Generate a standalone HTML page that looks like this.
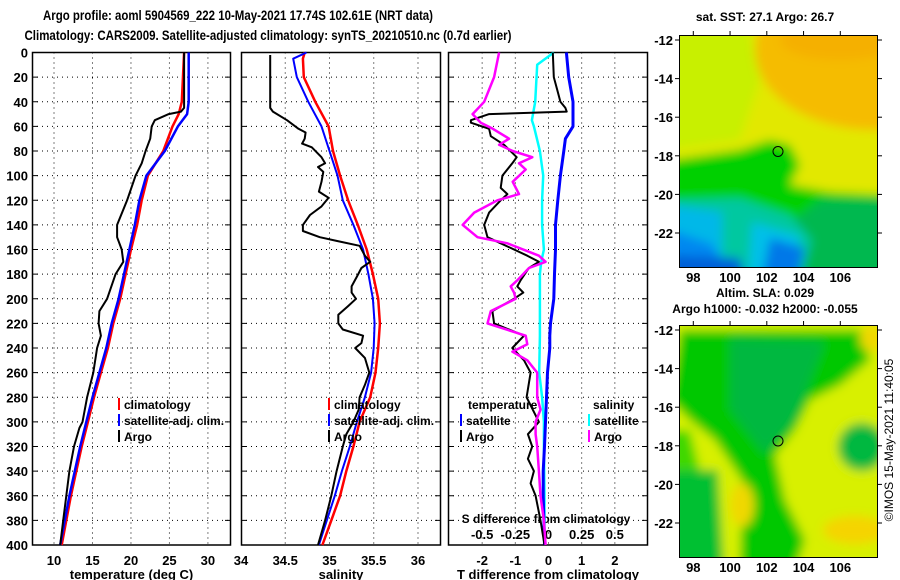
<!DOCTYPE html>
<html><head><meta charset="utf-8">
<style>
html,body{margin:0;padding:0;background:#fff;}
svg{display:block;font-family:"Liberation Sans",sans-serif;font-weight:bold;}
text{fill:#000;}
</style></head>
<body>
<svg id="chart" width="900" height="580" viewBox="0 0 900 580" xmlns="http://www.w3.org/2000/svg">
<defs>
<filter id="blur" x="-10%" y="-10%" width="120%" height="120%"><feGaussianBlur stdDeviation="5"/></filter>
<clipPath id="clipTop"><rect x="680" y="36" width="197" height="231"/></clipPath>
<clipPath id="clipBot"><rect x="680" y="326" width="197" height="231"/></clipPath>
</defs>
<text x="238" y="20" font-size="14" text-anchor="middle" textLength="390" lengthAdjust="spacingAndGlyphs">Argo profile: aoml 5904569_222 10-May-2021 17.74S 102.61E (NRT data)</text>
<text x="268" y="40" font-size="14" text-anchor="middle" textLength="487" lengthAdjust="spacingAndGlyphs">Climatology: CARS2009. Satellite-adjusted climatology: synTS_20210510.nc (0.7d earlier)</text>

<g>
<g clip-path="url(#clipTop)">
<g filter="url(#blur)">
<rect x="670" y="26" width="220" height="250" fill="#e2e800"/>
<ellipse cx="875" cy="50" rx="120" ry="80" fill="#f5bc00"/>
<ellipse cx="840" cy="40" rx="60" ry="20" fill="#f5b000"/>
<polygon points="670,30 750,30 760,80 740,140 670,150" fill="#c8f000"/>
<polygon points="670,160 740,150 770,140 790,145 800,165 790,185 830,192 890,195 890,280 670,280" fill="#00d000"/>
<polygon points="820,200 890,200 890,280 800,280 780,230" fill="#00b850"/>
<polygon points="670,200 740,198 790,215 812,240 800,280 670,280" fill="#00c8a0"/>
<polygon points="670,205 722,212 722,280 670,280" fill="#00b8e8"/>
<polygon points="752,222 800,236 792,280 748,280" fill="#00c0e8"/>
<polygon points="670,230 712,244 732,280 670,280" fill="#0088f0"/>
<polygon points="670,255 740,258 745,280 670,280" fill="#0060d8"/>
<polygon points="770,238 805,248 798,280 762,280" fill="#0078e8"/>
</g></g>
<rect x="679.5" y="35.5" width="198" height="232" fill="none" stroke="#000"/>
<circle cx="778" cy="151.5" r="5" fill="none" stroke="#000"/>
<text x="765" y="21" font-size="12" text-anchor="middle">sat. SST: 27.1 Argo: 26.7</text>
<text x="765" y="297" font-size="12" text-anchor="middle">Altim. SLA: 0.029</text>
</g>

<g>
<g clip-path="url(#clipBot)">
<g filter="url(#blur)">
<rect x="670" y="316" width="220" height="250" fill="#d8f000"/>
<polygon points="680,330 860,330 870,360 840,385 810,400 795,430 775,455 785,500 805,540 795,570 740,570 742,480 715,440 690,420 670,400" fill="#00c800"/>
<polygon points="730,338 825,342 795,420 765,455 730,410" fill="#00b840"/>
<polygon points="670,470 718,470 724,570 670,570" fill="#00c030"/>
<polygon points="670,430 690,430 700,470 670,470" fill="#40d800"/>
<circle cx="862" cy="447" r="24" fill="#00b840"/>
<ellipse cx="742" cy="505" rx="12" ry="22" fill="#f0d800"/>
<ellipse cx="855" cy="530" rx="32" ry="14" fill="#f5d400"/>
<ellipse cx="872" cy="338" rx="12" ry="14" fill="#f0d800"/>
</g></g>
<rect x="679.5" y="325.5" width="198" height="232" fill="none" stroke="#000"/>
<circle cx="778" cy="441" r="5" fill="none" stroke="#000"/>
<text x="765" y="313" font-size="12" text-anchor="middle">Argo h1000: -0.032 h2000: -0.055</text>
<text transform="translate(893,440) rotate(-90)" font-size="12" font-weight="normal" text-anchor="middle">©IMOS 15-May-2021 11:40:05</text>
</g>
<g id="dyn"></g>
</svg>
<script>
// ---- data ----
const depthTicks = [0,20,40,60,80,100,120,140,160,180,200,220,240,260,280,300,320,340,360,380,400];
const tempTicks = [10,15,20,25,30];
const salTicks = [34,34.5,35,35.5,36];
const diffTicks = [-2,-1,0,1,2];
const sdiffTicks = [-0.5,-0.25,0,0.25,0.5];

const tClimDepth = [0,40,50,60,80,100,120,140,160,180,200,220,240,260,280,300,320,340,360,380,400];
const tClim = [26.9,26.6,26.2,25.4,24.2,22.2,21.4,20.8,20.0,19.3,18.6,17.7,17.0,16.1,15.2,14.4,13.6,12.9,12.2,11.6,11.0];
const tSat = [27.5,27.5,27.3,26.1,24.4,22.0,21.1,20.5,19.8,19.1,18.4,17.5,16.8,15.9,15.0,14.2,13.4,12.7,12.0,11.4,10.8];
const tArgoDepth = [0,45,48,50,55,60,70,80,90,100,120,140,150,160,170,180,200,210,220,230,240,260,280,300,305,320,340,360,380,400];
const tArgo = [26.9,26.9,26.5,24.9,23.1,22.7,22.5,21.9,21.4,20.6,19.5,18.2,18.2,18.8,19.0,18.0,16.9,15.9,15.8,16.1,15.6,15.1,14.3,13.7,13.3,12.6,12.0,11.6,11.2,10.8];

const sClimDepth = [0,5,20,40,60,80,100,120,140,160,180,200,220,240,260,280,300,320,340,360,380,400];
const sClim = [34.72,34.70,34.71,34.84,34.99,35.04,35.12,35.21,35.32,35.42,35.49,35.55,35.57,35.55,35.52,35.46,35.34,35.27,35.19,35.12,35.02,34.92];
const sSat = [34.74,34.59,34.63,34.76,34.91,35.00,35.09,35.15,35.27,35.38,35.44,35.49,35.51,35.50,35.47,35.40,35.31,35.23,35.14,35.06,34.97,34.88];
const sArgoDepth = [2,45,48,55,62,65,70,74,77,85,90,93,97,105,113,118,125,132,140,145,150,153,157,165,170,175,182,190,195,200,206,213,220,225,230,236,240,248,260,270,280,290,300,310,320,340,360,380,400];
const sArgo = [34.33,34.33,34.36,34.52,34.65,34.73,34.72,34.69,34.80,34.91,34.95,34.87,34.93,34.91,34.88,34.99,34.91,34.78,34.70,34.70,34.89,35.08,35.34,35.40,35.46,35.36,35.31,35.25,35.25,35.30,35.21,35.10,35.10,35.15,35.38,35.36,35.29,35.40,35.45,35.40,35.34,35.33,35.27,35.19,35.15,35.08,35.02,34.95,34.87];

const dTSatDepth = [0,20,40,60,70,80,100,120,140,160,180,200,220,230,240,260,280,300,320,340,360,380,400];
const dTSat = [0.54,0.61,0.74,0.74,0.51,0.46,0.36,0.28,0.21,0.21,0.18,0.16,0.06,0.04,0.04,-0.03,-0.06,-0.09,-0.12,-0.16,-0.16,-0.14,-0.12];
const dSSatDepth = [0,10,40,55,60,80,100,120,140,160,170,180,200,230,260,280,300,320,360,400];
const dSSat = [0.04,-0.085,-0.10,-0.125,-0.11,-0.065,-0.04,-0.048,-0.048,-0.035,-0.055,-0.065,-0.065,-0.065,-0.07,-0.048,-0.035,-0.035,-0.03,-0.03];
const dTArgoDepth = [0,20,30,40,45,48,50,55,57,62,68,75,85,90,100,110,115,120,130,140,150,155,165,170,175,185,190,195,200,210,220,230,240,250,260,280,300,310,320,330,340,350,360,380,400];
const dTArgo = [0.13,0.16,0.26,0.36,0.51,0.55,-1.79,-2.34,-2.34,-1.79,-1.74,-1.34,-0.96,-1.09,-1.39,-1.44,-1.24,-1.44,-1.79,-1.94,-1.84,-1.44,-0.64,-0.29,-0.59,-0.84,-0.94,-0.76,-1.04,-1.69,-1.64,-0.74,-1.09,-0.74,-0.54,-0.66,-0.29,-0.62,-0.49,-0.62,-0.44,-0.54,-0.39,-0.24,-0.12];
const dSArgoDepth = [0,20,40,50,57,62,70,75,80,85,90,95,105,115,120,130,140,150,155,165,170,175,185,190,195,200,210,220,230,237,243,250,260,280,290,300,310,320,340,360,380,400];
const dSArgo = [-0.372,-0.41,-0.485,-0.572,-0.51,-0.42,-0.297,-0.372,-0.27,-0.122,-0.222,-0.172,-0.27,-0.222,-0.385,-0.56,-0.647,-0.535,-0.31,-0.072,-0.022,-0.147,-0.235,-0.285,-0.26,-0.247,-0.435,-0.46,-0.172,-0.16,-0.272,-0.16,-0.085,-0.085,-0.06,-0.097,-0.097,-0.085,-0.072,-0.06,-0.035,-0.022];

// ---- axes ----
const Y0 = 52.5, Y1 = 545;
const yD = d => Y0 + d * (Y1 - Y0) / 400;
const P1 = {l:32, r:231, min:7.14, max:33.0};
const P2 = {l:241, r:441, min:34.0, max:36.26};
const P3 = {l:448, r:648, min:-3.03, max:3.0};
const xOf = (p, v) => p.l + (v - p.min) * (p.r - p.l) / (p.max - p.min);
const xS3 = v => xOf(P3, v * 4);

const NS = "http://www.w3.org/2000/svg";
const dyn = document.getElementById('dyn');
function mk(tag, attrs, parent) {
  const e = document.createElementNS(NS, tag);
  for (const k in attrs) e.setAttribute(k, attrs[k]);
  (parent || dyn).appendChild(e);
  return e;
}
function txt(x, y, s, size, anchor, parent) {
  const t = mk('text', {x:x, y:y, 'font-size':size, 'text-anchor':anchor}, parent);
  t.textContent = s;
  return t;
}

function panel(p, name, ticks, tickFn, title) {
  const g = mk('g', {});
  
  
  depthTicks.forEach(d => {
    if (d > 0 && d < 400) mk('line', {x1:p.l, x2:p.r, y1:yD(d), y2:yD(d), stroke:'#000', 'stroke-dasharray':'1,4'}, g);
    mk('line', {x1:p.l, x2:p.l+6, y1:yD(d), y2:yD(d), stroke:'#000'}, g);
    mk('line', {x1:p.r-6, x2:p.r, y1:yD(d), y2:yD(d), stroke:'#000'}, g);
  });
  ticks.forEach(v => {
    const x = tickFn(v);
    if (x > p.l + 1 && x < p.r - 1) mk('line', {x1:x, x2:x, y1:Y0, y2:Y1, stroke:'#000', 'stroke-dasharray':'1,4'}, g);
    const lab = txt(x, 565, String(v), 13, 'middle', g);
    
    
  });
  mk('rect', {x:p.l+0.5, y:Y0, width:p.r-p.l-1, height:Y1-Y0, fill:'none', stroke:'#000', 'stroke-width':1.5}, g);
  const tt = txt((p.l+p.r)/2, 579, title, 13, 'middle', g);
  
  
  return g;
}
panel(P1, 'temperature-panel', tempTicks, v => xOf(P1, v), 'temperature (deg C)');
panel(P2, 'salinity-panel', salTicks, v => xOf(P2, v), 'salinity');
const g3 = panel(P3, 'difference-panel', diffTicks, v => xOf(P3, v), 'T difference from climatology');
sdiffTicks.forEach(v => {
  const t = txt(xS3(v), 539, String(v), 13, 'middle', g3);
  
  
});
const st = txt(546, 523, 'S difference from climatology', 12, 'middle', g3);



depthTicks.forEach(d => {
  const t = txt(28, yD(d) + 5, String(d), 13, 'end');
  
  
});

function line(depths, vals, xf, color, w, name) {
  const pts = depths.map((d, i) => xf(vals[i]).toFixed(1) + ',' + yD(d).toFixed(1)).join(' ');
  const pl = mk('polyline', {points:pts, fill:'none', stroke:color, 'stroke-width':w, 'stroke-linejoin':'round'});
  
  
}
line(tClimDepth, tClim, v => xOf(P1, v), '#ff0000', 2.5, 'temp-climatology-line');
line(tClimDepth, tSat, v => xOf(P1, v), '#0000ff', 2.5, 'temp-satellite-line');
line(tArgoDepth, tArgo, v => xOf(P1, v), '#000000', 2, 'temp-argo-line');
line(sClimDepth, sClim, v => xOf(P2, v), '#ff0000', 2.5, 'sal-climatology-line');
line(sClimDepth, sSat, v => xOf(P2, v), '#0000ff', 2, 'sal-satellite-line');
line(sArgoDepth, sArgo, v => xOf(P2, v), '#000000', 2, 'sal-argo-line');
line(dSSatDepth, dSSat, xS3, '#00ffff', 2.5, 'sdiff-satellite-line');
line(dTSatDepth, dTSat, v => xOf(P3, v), '#0000ff', 3, 'tdiff-satellite-line');
line(dTArgoDepth, dTArgo, v => xOf(P3, v), '#000000', 2, 'tdiff-argo-line');
line(dSArgoDepth, dSArgo, xS3, '#ff00ff', 2.5, 'sdiff-argo-line');

function legend(x, y, color, label) {
  const g = mk('g', {});
  
  
  mk('rect', {x:x, y:y-11, width:2, height:12, fill:color}, g);
  txt(x + 6, y, label, 12, 'start', g);
}
legend(118, 409, '#ff0000', 'climatology');
legend(118, 425, '#0000ff', 'satellite-adj. clim.');
legend(118, 441, '#000000', 'Argo');
legend(328, 409, '#ff0000', 'climatology');
legend(328, 425, '#0000ff', 'satellite-adj. clim.');
legend(328, 441, '#000000', 'Argo');
const lt = txt(468, 409, 'temperature', 12, 'start');


const ls = txt(593, 409, 'salinity', 12, 'start');


legend(460, 425, '#0000ff', 'satellite');
legend(460, 441, '#000000', 'Argo');
legend(588, 425, '#00ffff', 'satellite');
legend(588, 441, '#ff00ff', 'Argo');

// map axes
function mapAxes(top, latTop, name) {
  const g = mk('g', {});
  
  
  const lons = [98,100,102,104,106];
  const lats = [-12,-14,-16,-18,-20,-22];
  lons.forEach(lo => {
    const x = 693.3 + (lo - 98) * 18.375;
    mk('line', {x1:x, x2:x, y1:top-4, y2:top, stroke:'#000'}, g);
    txt(x, top + 247, String(lo), 13, 'middle', g);
  });
  lats.forEach(la => {
    const y = latTop + (-12 - la) * 19.3;
    mk('line', {x1:675, x2:679, y1:y, y2:y, stroke:'#000'}, g);
    mk('line', {x1:878, x2:882, y1:y, y2:y, stroke:'#000'}, g);
    txt(673, y + 5, String(la), 13, 'end', g);
  });
}
mapAxes(35, 40, 'sst-map-axes');
mapAxes(325, 330, 'sla-map-axes');
</script>
</body></html>
